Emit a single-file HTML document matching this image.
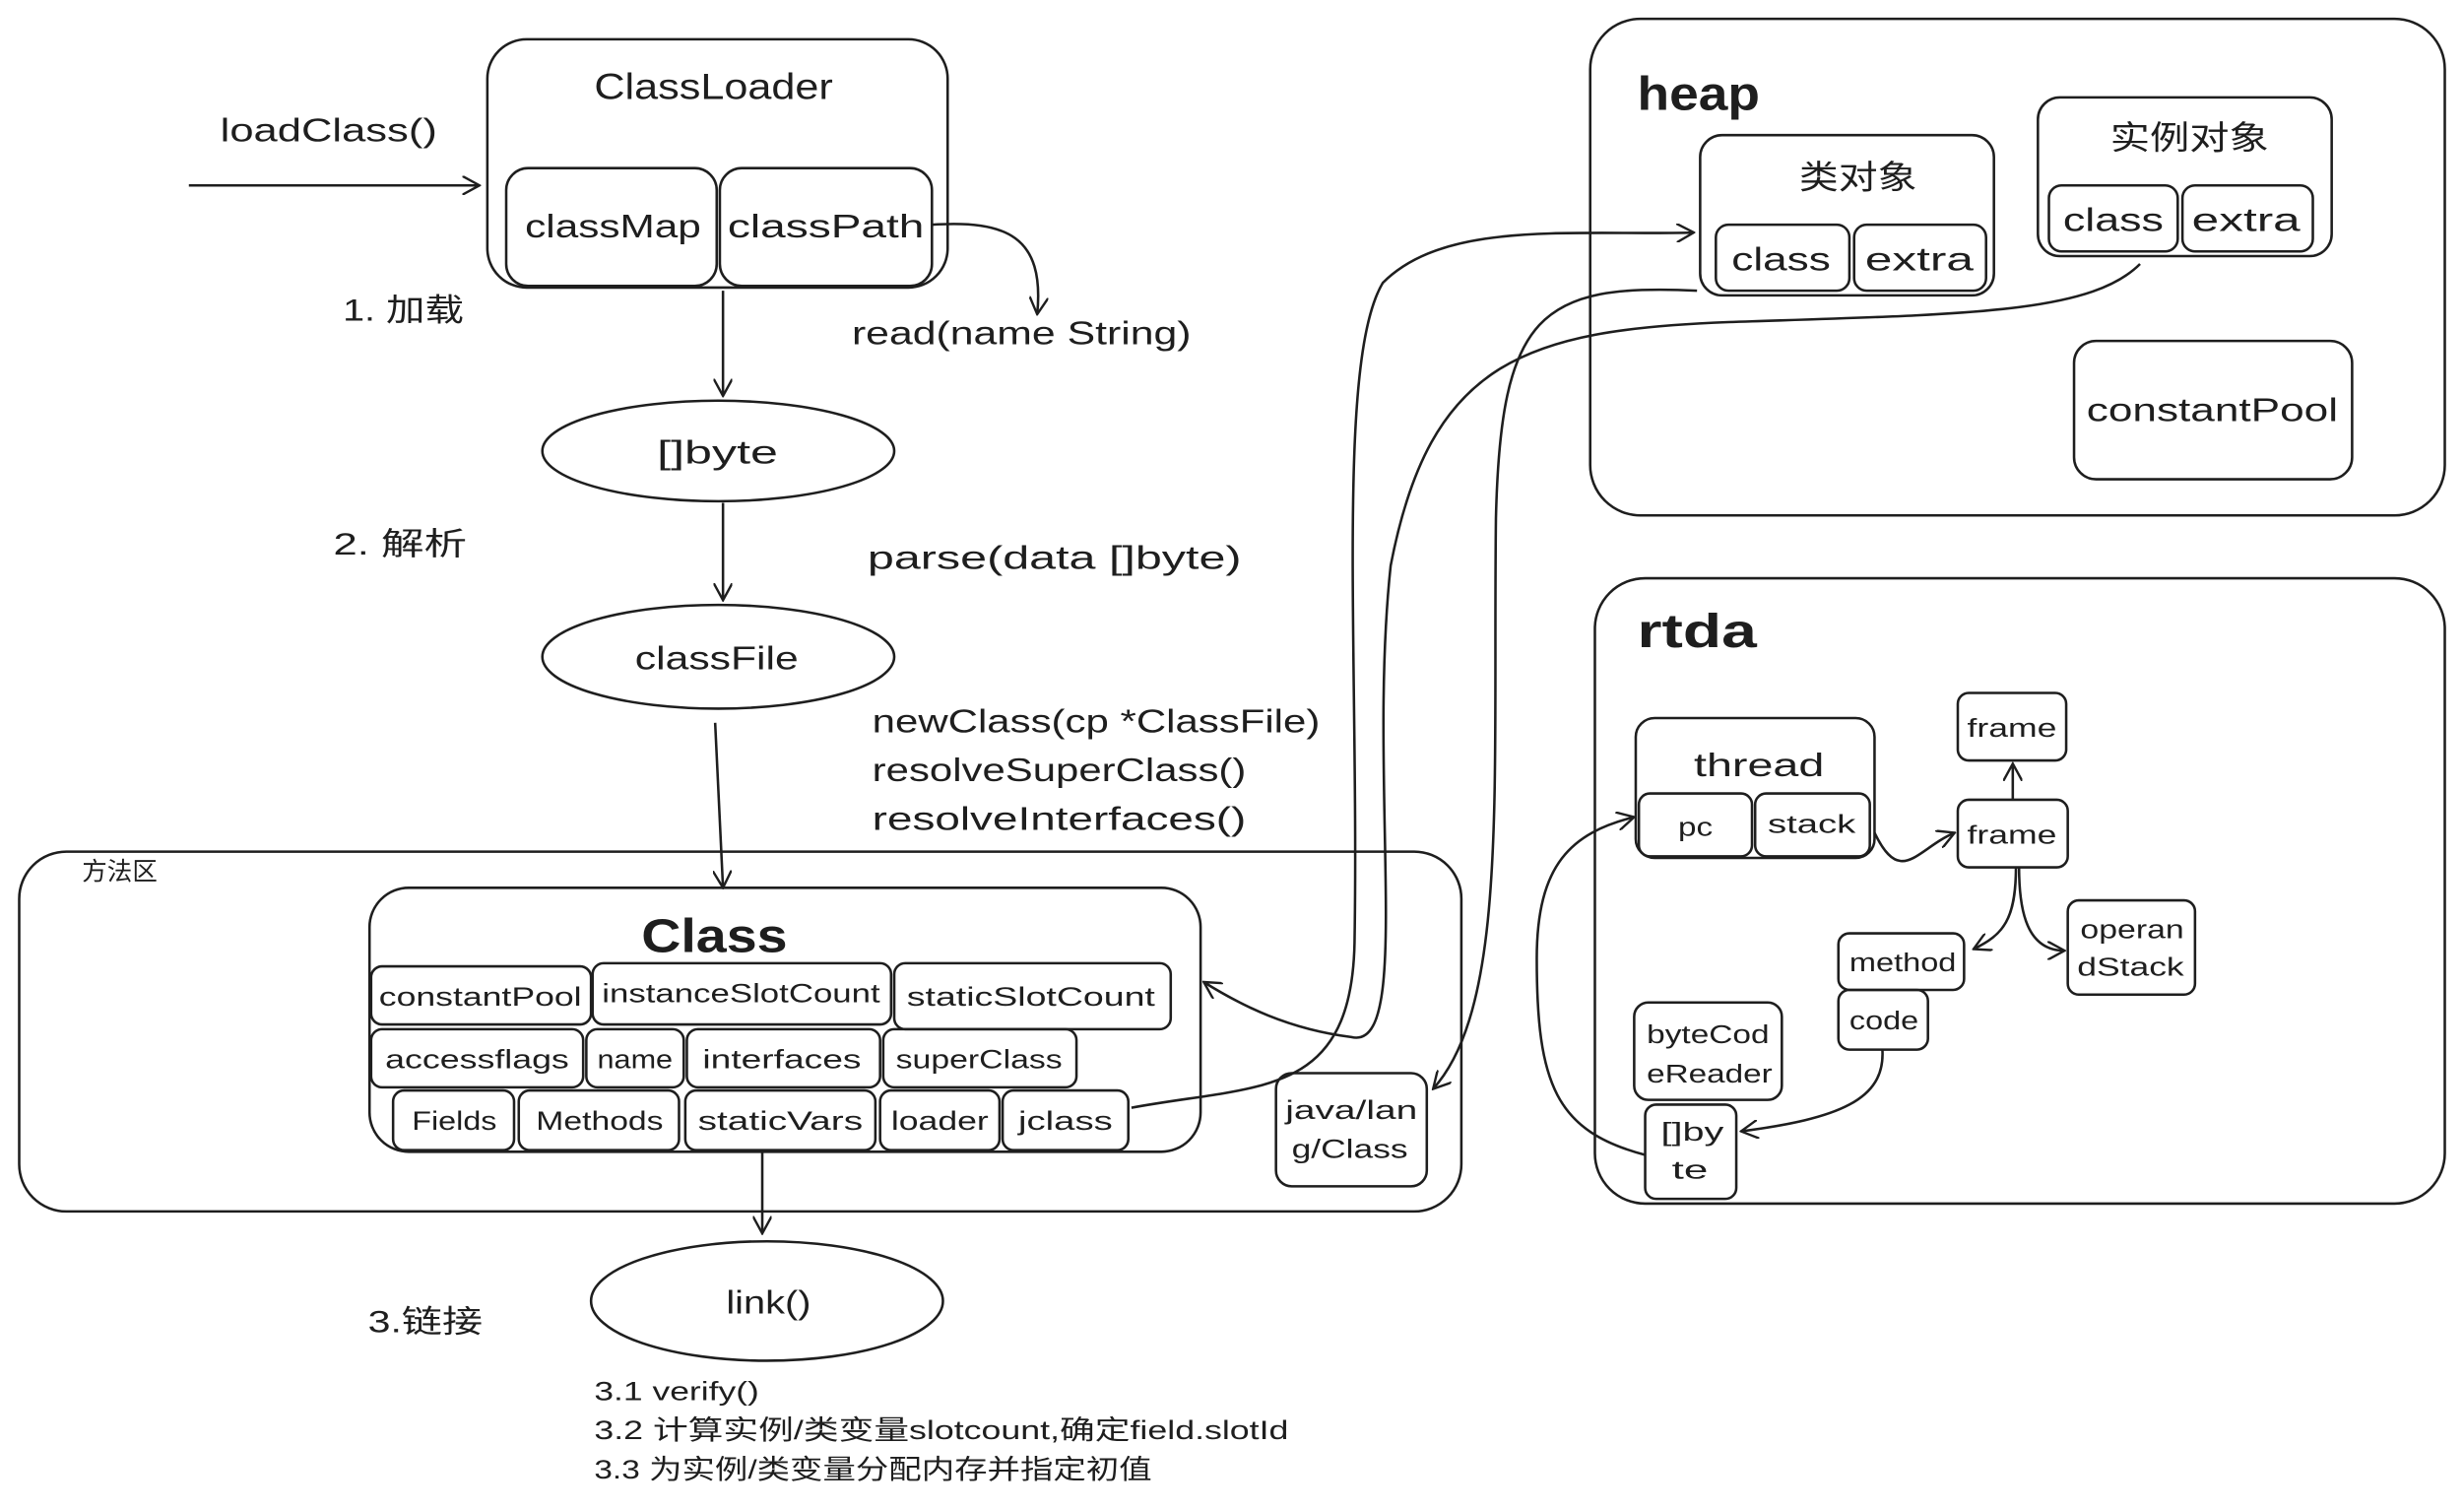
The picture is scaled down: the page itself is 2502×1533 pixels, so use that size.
<!DOCTYPE html>
<html><head><meta charset="utf-8">
<style>
html,body{margin:0;padding:0;background:#fff;}
svg{display:block;}
text{font-family:"Liberation Sans","Noto Sans CJK SC",sans-serif;fill:#1e1e1e;}
.b{fill:none;stroke:#1e1e1e;stroke-width:1.6;}
</style></head><body>
<svg width="2502" height="1533" viewBox="0 0 1568 961" xmlns="http://www.w3.org/2000/svg">
<defs><marker id="a" viewBox="0 0 12 12" refX="11" refY="6" markerWidth="12" markerHeight="12" markerUnits="userSpaceOnUse" orient="auto"><path d="M0,0 L11,6 L0,12" fill="none" stroke="#1e1e1e" stroke-width="1.5"/></marker></defs>
<g class="b">
<rect x="310" y="25" width="293" height="158" rx="25"/>
<rect x="322" y="107" width="134" height="75" rx="14"/>
<rect x="458" y="107" width="135" height="75" rx="14"/>
<path d="M120,118 L305,118" marker-end="url(#a)"/>
<path d="M593,143 C640,140 665,150 660,200" marker-end="url(#a)"/>
<path d="M460,185 L460,252" marker-end="url(#a)"/>
<ellipse cx="457" cy="287" rx="112" ry="32"/>
<path d="M460,320 L460,382" marker-end="url(#a)"/>
<ellipse cx="457" cy="418" rx="112" ry="33"/>
<path d="M455,460 L460,565" marker-end="url(#a)"/>
<rect x="12" y="542" width="918" height="229" rx="30"/>
<rect x="235" y="565" width="529" height="168" rx="25"/>
<rect x="236" y="615" width="140" height="37" rx="7"/>
<rect x="377" y="613" width="190" height="39" rx="7"/>
<rect x="569" y="613" width="176" height="42" rx="7"/>
<rect x="236" y="655" width="135" height="37" rx="7"/>
<rect x="373" y="655" width="62" height="37" rx="7"/>
<rect x="437" y="655" width="123" height="37" rx="7"/>
<rect x="562" y="655" width="123" height="37" rx="7"/>
<rect x="250" y="694" width="77" height="38" rx="7"/>
<rect x="330" y="694" width="102" height="38" rx="7"/>
<rect x="436" y="694" width="121" height="38" rx="7"/>
<rect x="560" y="694" width="76" height="38" rx="7"/>
<rect x="638" y="694" width="80" height="38" rx="7"/>
<rect x="812" y="683" width="96" height="72" rx="10"/>
<path d="M485,733 L485,785" marker-end="url(#a)"/>
<ellipse cx="488" cy="828" rx="112" ry="38"/>
<rect x="1012" y="12" width="544" height="316" rx="32"/>
<rect x="1082" y="86" width="187" height="102" rx="14"/>
<rect x="1092" y="143" width="85" height="42" rx="8"/>
<rect x="1180" y="143" width="84" height="42" rx="8"/>
<rect x="1297" y="62" width="187" height="101" rx="14"/>
<rect x="1304" y="118" width="82" height="42" rx="8"/>
<rect x="1389" y="118" width="83" height="42" rx="8"/>
<rect x="1320" y="217" width="177" height="88" rx="14"/>
<rect x="1015" y="368" width="541" height="398" rx="32"/>
<rect x="1041" y="457" width="152" height="89" rx="12"/>
<rect x="1043" y="505" width="72" height="40" rx="7"/>
<rect x="1117" y="505" width="73" height="40" rx="7"/>
<rect x="1246" y="441" width="69" height="43" rx="7"/>
<rect x="1246" y="509" width="70" height="43" rx="7"/>
<rect x="1316" y="573" width="81" height="60" rx="7"/>
<rect x="1170" y="594" width="80" height="36" rx="7"/>
<rect x="1170" y="630" width="57" height="38" rx="7"/>
<rect x="1040" y="638" width="94" height="62" rx="9"/>
<rect x="1047" y="703" width="58" height="60" rx="7"/>
<path d="M720,705 C800,690 860,700 862,600 C865,420 850,230 880,180 C920,140 1000,150 1078,148" marker-end="url(#a)"/>
<path d="M1362,168 C1330,200 1250,200 1100,205 C970,210 910,230 885,360 C870,500 900,670 860,660 C820,655 790,640 766,625" marker-end="url(#a)"/>
<path d="M1080,185 C980,180 955,200 952,330 C950,500 960,640 912,693" marker-end="url(#a)"/>
<path d="M1193,530 C1210,565 1220,540 1244,530" marker-end="url(#a)"/>
<path d="M1281,509 L1281,486" marker-end="url(#a)"/>
<path d="M1283,552 C1283,585 1275,595 1256,604" marker-end="url(#a)"/>
<path d="M1285,552 C1285,580 1290,605 1314,605" marker-end="url(#a)"/>
<path d="M1198,668 C1200,700 1170,712 1108,720" marker-end="url(#a)"/>
<path d="M1047,735 C990,720 978,690 978,610 C978,550 1000,530 1040,520" marker-end="url(#a)"/>
</g>
<g font-size="21" lengthAdjust="spacingAndGlyphs">
<text x="378" y="63" font-size="23" textLength="152" lengthAdjust="spacingAndGlyphs">ClassLoader</text>
<text x="334" y="151" textLength="112" lengthAdjust="spacingAndGlyphs">classMap</text>
<text x="463" y="151" textLength="125" lengthAdjust="spacingAndGlyphs">classPath</text>
<text x="140" y="90" textLength="138" lengthAdjust="spacingAndGlyphs">loadClass()</text>
<text x="218" y="204" font-size="20" textLength="77" lengthAdjust="spacingAndGlyphs">1. 加载</text>
<text x="542" y="219" textLength="216" lengthAdjust="spacingAndGlyphs">read(name String)</text>
<text x="418" y="295" textLength="77" lengthAdjust="spacingAndGlyphs">[]byte</text>
<text x="212" y="353" font-size="20" textLength="85" lengthAdjust="spacingAndGlyphs">2. 解析</text>
<text x="552" y="362" textLength="238" lengthAdjust="spacingAndGlyphs">parse(data []byte)</text>
<text x="404" y="426" textLength="104" lengthAdjust="spacingAndGlyphs">classFile</text>
<text x="555" y="466" textLength="285" lengthAdjust="spacingAndGlyphs">newClass(cp *ClassFile)</text>
<text x="555" y="497" textLength="238" lengthAdjust="spacingAndGlyphs">resolveSuperClass()</text>
<text x="555" y="528" textLength="238" lengthAdjust="spacingAndGlyphs">resolveInterfaces()</text>
<text x="234" y="848" font-size="20" textLength="73" lengthAdjust="spacingAndGlyphs">3.链接</text>
<text x="462" y="836" textLength="54" lengthAdjust="spacingAndGlyphs">link()</text>
</g>
<text x="52" y="560" font-size="16">方法区</text>
<text x="408" y="606" font-size="30" font-weight="bold" textLength="93" lengthAdjust="spacingAndGlyphs">Class</text>
<g font-size="17">
<text x="241" y="640" textLength="129" lengthAdjust="spacingAndGlyphs">constantPool</text>
<text x="383" y="638" textLength="177" lengthAdjust="spacingAndGlyphs">instanceSlotCount</text>
<text x="577" y="640" textLength="158" lengthAdjust="spacingAndGlyphs">staticSlotCount</text>
<text x="245" y="680" textLength="117" lengthAdjust="spacingAndGlyphs">accessflags</text>
<text x="380" y="680" textLength="48" lengthAdjust="spacingAndGlyphs">name</text>
<text x="447" y="680" textLength="101" lengthAdjust="spacingAndGlyphs">interfaces</text>
<text x="570" y="680" textLength="106" lengthAdjust="spacingAndGlyphs">superClass</text>
<text x="262" y="719" textLength="54" lengthAdjust="spacingAndGlyphs">Fields</text>
<text x="341" y="719" textLength="81" lengthAdjust="spacingAndGlyphs">Methods</text>
<text x="444" y="719" textLength="105" lengthAdjust="spacingAndGlyphs">staticVars</text>
<text x="567" y="719" textLength="62" lengthAdjust="spacingAndGlyphs">loader</text>
<text x="648" y="719" textLength="60" lengthAdjust="spacingAndGlyphs">jclass</text>
<text x="818" y="712" textLength="84" lengthAdjust="spacingAndGlyphs">java/lan</text>
<text x="822" y="737" textLength="74" lengthAdjust="spacingAndGlyphs">g/Class</text>
</g>
<g font-size="17">
<text x="378" y="891" textLength="105" lengthAdjust="spacingAndGlyphs">3.1 verify()</text>
<text x="378" y="916" textLength="442" lengthAdjust="spacingAndGlyphs">3.2 计算实例/类变量slotcount,确定field.slotId</text>
<text x="378" y="941" textLength="355" lengthAdjust="spacingAndGlyphs">3.3 为实例/类变量分配内存并指定初值</text>
</g>
<text x="1042" y="70" font-size="30" font-weight="bold" textLength="78" lengthAdjust="spacingAndGlyphs">heap</text>
<text x="1042" y="412" font-size="30" font-weight="bold" textLength="76" lengthAdjust="spacingAndGlyphs">rtda</text>
<g font-size="21">
<text x="1145" y="120" textLength="75" lengthAdjust="spacingAndGlyphs">类对象</text>
<text x="1102" y="172" textLength="63" lengthAdjust="spacingAndGlyphs">class</text>
<text x="1187" y="172" textLength="69" lengthAdjust="spacingAndGlyphs">extra</text>
<text x="1343" y="95" textLength="101" lengthAdjust="spacingAndGlyphs">实例对象</text>
<text x="1313" y="147" textLength="64" lengthAdjust="spacingAndGlyphs">class</text>
<text x="1395" y="147" textLength="69" lengthAdjust="spacingAndGlyphs">extra</text>
<text x="1328" y="268" textLength="160" lengthAdjust="spacingAndGlyphs">constantPool</text>
<text x="1078" y="494" textLength="83" lengthAdjust="spacingAndGlyphs">thread</text>
</g>
<g font-size="16">
<text x="1068" y="532" textLength="22" lengthAdjust="spacingAndGlyphs">pc</text>
<text x="1125" y="530" textLength="56" lengthAdjust="spacingAndGlyphs">stack</text>
<text x="1252" y="469" textLength="57" lengthAdjust="spacingAndGlyphs">frame</text>
<text x="1252" y="537" textLength="57" lengthAdjust="spacingAndGlyphs">frame</text>
<text x="1324" y="597" textLength="66" lengthAdjust="spacingAndGlyphs">operan</text>
<text x="1322" y="621" textLength="68" lengthAdjust="spacingAndGlyphs">dStack</text>
<text x="1177" y="618" textLength="68" lengthAdjust="spacingAndGlyphs">method</text>
<text x="1177" y="655" textLength="44" lengthAdjust="spacingAndGlyphs">code</text>
<text x="1048" y="664" textLength="78" lengthAdjust="spacingAndGlyphs">byteCod</text>
<text x="1048" y="689" textLength="80" lengthAdjust="spacingAndGlyphs">eReader</text>
<text x="1057" y="726" textLength="40" lengthAdjust="spacingAndGlyphs">[]by</text>
<text x="1064" y="750" textLength="23" lengthAdjust="spacingAndGlyphs">te</text>
</g>
</svg>
</body></html>
